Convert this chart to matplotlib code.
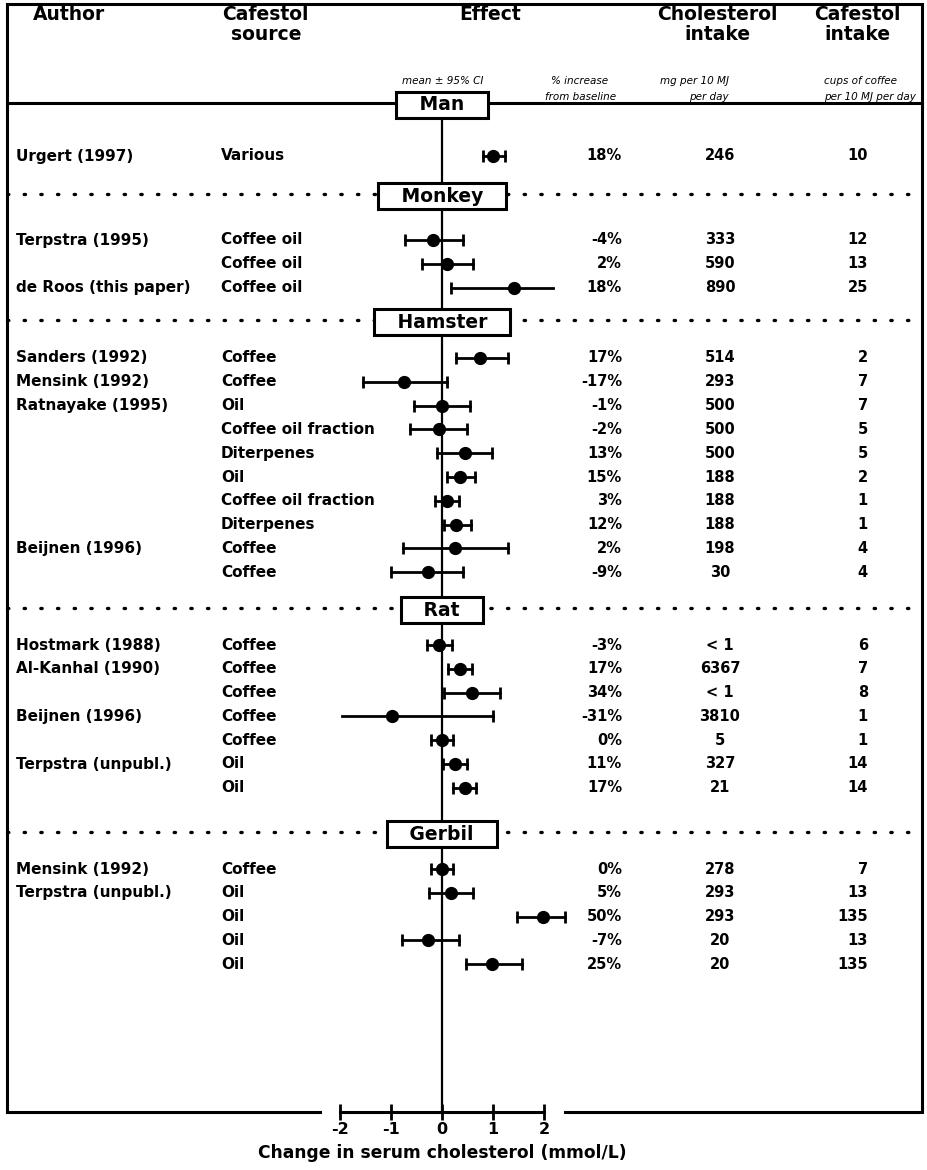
import numpy as np
import matplotlib.pyplot as plt

plt.rcParams['font.family'] = 'DejaVu Sans'
plt.rcParams['axes.unicode_minus'] = False

# species blocks and how many studies each holds
species = ['Man', 'Monkey', 'Hamster', 'Rat', 'Gerbil']
group_sizes = [1, 3, 10, 7, 5]

authors = ['Urgert (1997)',
           'Terpstra (1995)', '', 'de Roos (this paper)',
           'Sanders (1992)', 'Mensink (1992)', 'Ratnayake (1995)', '', '', '', '', '',
           'Beijnen (1996)', '',
           'Hostmark (1988)', 'Al-Kanhal (1990)', '', 'Beijnen (1996)', '',
           'Terpstra (unpubl.)', '',
           'Mensink (1992)', 'Terpstra (unpubl.)', '', '', '']
sources = ['Various',
           'Coffee oil', 'Coffee oil', 'Coffee oil',
           'Coffee', 'Coffee', 'Oil', 'Coffee oil fraction', 'Diterpenes', 'Oil',
           'Coffee oil fraction', 'Diterpenes', 'Coffee', 'Coffee',
           'Coffee', 'Coffee', 'Coffee', 'Coffee', 'Coffee', 'Oil', 'Oil',
           'Coffee', 'Oil', 'Oil', 'Oil', 'Oil']

# change in serum cholesterol, mmol/L
effect_mean = [1.00,
               -0.18, 0.10, 1.41,
               0.75, -0.75, 0.00, -0.06, 0.45, 0.35, 0.10, 0.27, 0.25, -0.27,
               -0.06, 0.35, 0.59, -0.98, 0.00, 0.25, 0.45,
               0.00, 0.18, 1.98, -0.27, 0.98]
ci_low = [0.80,
          -0.73, -0.39, 0.18,
          0.27, -1.55, -0.55, -0.63, -0.10, 0.10, -0.14, 0.04, -0.76, -1.00,
          -0.29, 0.12, 0.04, -1.96, -0.22, 0.02, 0.22,
          -0.22, -0.25, 1.47, -0.79, 0.47]
ci_high = [1.24,
           0.41, 0.61, 2.18,
           1.29, 0.10, 0.55, 0.49, 0.98, 0.65, 0.33, 0.57, 1.29, 0.41,
           0.20, 0.59, 1.14, 1.00, 0.22, 0.49, 0.67,
           0.22, 0.61, 2.41, 0.34, 1.57]
# CI ends that run off the scale (drawn without a cap)
open_end = ['', '', '', 'hi', '', '', '', '', '', '', '', '', '', '',
            '', '', '', 'lo', '', '', '', '', '', '', '', '']

pct_increase = ['18%',
                '-4%', '2%', '18%',
                '17%', '-17%', '-1%', '-2%', '13%', '15%', '3%', '12%', '2%', '-9%',
                '-3%', '17%', '34%', '-31%', '0%', '11%', '17%',
                '0%', '5%', '50%', '-7%', '25%']
chol_intake = ['246',
               '333', '590', '890',
               '514', '293', '500', '500', '500', '188', '188', '188', '198', '30',
               '< 1', '6367', '< 1', '3810', '5', '327', '21',
               '278', '293', '293', '20', '20']
cafestol_cups = ['10',
                 '12', '13', '25',
                 '2', '7', '7', '5', '5', '2', '1', '1', '4', '4',
                 '6', '7', '8', '1', '1', '14', '14',
                 '7', '13', '135', '13', '135']

# page layout (pixels); x data is mmol/L, zero sits at X0
W, H = 927, 1170
X0, SCALE = 442, 51
header_y = [103, 194, 320, 608, 832]
first_gap = [53, 46, 38, 37, 37]
pitch = 23.8
axis_y = 1112


def col(px):
    return (px - X0) / SCALE


row_y = []
for hy, gap, n in zip(header_y, first_gap, group_sizes):
    row_y.extend(hy + gap + pitch * np.arange(n))
row_y = np.array(row_y)

fig = plt.figure(figsize=(W / 100, H / 100), dpi=100)
ax = fig.add_axes([0, 0, 1, 1])
ax.set_xlim(col(0), col(W))
ax.set_ylim(H, 0)

lw_frame = 2.2
# frame, with the bottom edge broken around the scale
left, right, top = col(7), col(922), 4
ax.plot([left, left], [top, axis_y], color='black', lw=lw_frame, solid_capstyle='butt')
ax.plot([right, right], [top, axis_y], color='black', lw=lw_frame, solid_capstyle='butt')
ax.plot([left, right], [top, top], color='black', lw=lw_frame)
ax.plot([left, col(320)], [axis_y, axis_y], color='black', lw=lw_frame)
ax.plot([col(565), right], [axis_y, axis_y], color='black', lw=lw_frame)

# column headers
hdr = dict(fontsize=13.5, fontweight='bold', ha='center', va='center')
ax.text(col(69), 14, 'Author', **hdr)
ax.text(col(265), 14, 'Cafestol', **hdr)
ax.text(col(266), 34, 'source', **hdr)
ax.text(col(490), 14, 'Effect', **hdr)
ax.text(col(717), 14, 'Cholesterol', **hdr)
ax.text(col(717), 34, 'intake', **hdr)
ax.text(col(857), 14, 'Cafestol', **hdr)
ax.text(col(857), 34, 'intake', **hdr)
sub = dict(fontsize=7.5, style='italic', ha='center', va='center')
ax.text(col(443), 81, 'mean ± 95% CI', **sub)
ax.text(col(580), 81, '% increase', **sub)
ax.text(col(581), 97, 'from baseline', **sub)
ax.text(col(694), 81, 'mg per 10 MJ', **sub)
ax.text(col(709), 97, 'per day', **sub)
ax.text(col(860), 81, 'cups of coffee', **sub)
ax.text(col(870), 97, 'per 10 MJ per day', **sub)

# solid rule under the header, dotted rules between species
ax.plot([left, right], [header_y[0], header_y[0]], color='black', lw=lw_frame)
for hy in header_y[1:]:
    ax.plot([left, right], [hy, hy], color='black', lw=2.4,
            linestyle=(0, (0.4, 4.6)), dash_capstyle='round')

# zero line
ax.plot([0, 0], [header_y[0] + 10, axis_y], color='black', lw=1.6, zorder=2)

for name, hy in zip(species, header_y):
    ax.text(0, hy + 2, '   ' + name + '   ', fontsize=13.5, fontweight='bold',
            ha='center', va='center', zorder=5,
            bbox=dict(boxstyle='square,pad=0.2', fc='white', ec='black', lw=2.2))

# forest plot marks
for i, y in enumerate(row_y):
    ax.plot([ci_low[i], ci_high[i]], [y, y], color='black', lw=2, zorder=3)
    ax.plot(effect_mean[i], y, 'o', color='black', ms=8.5, zorder=4)
    if open_end[i] != 'lo':
        ax.plot(ci_low[i], y, marker='|', color='black', ms=9, mew=2, zorder=4)
    if open_end[i] != 'hi':
        ax.plot(ci_high[i], y, marker='|', color='black', ms=9, mew=2, zorder=4)

# table text
body = dict(fontsize=11, fontweight='bold', va='center')
nums = dict(fontsize=10.5, fontweight='bold', va='center')
for i, y in enumerate(row_y):
    ax.text(col(16), y, authors[i], ha='left', **body)
    ax.text(col(221), y, sources[i], ha='left', **body)
    ax.text(col(622), y, pct_increase[i], ha='right', **nums)
    ax.text(col(720), y, chol_intake[i], ha='center', **nums)
    ax.text(col(868), y, cafestol_cups[i], ha='right', **nums)

# effect scale
for s in ['top', 'right', 'left']:
    ax.spines[s].set_visible(False)
ax.spines['bottom'].set_position(('data', axis_y))
ax.spines['bottom'].set_bounds(-2, 2)
ax.spines['bottom'].set_linewidth(2.2)
ax.set_xticks([-2, -1, 0, 1, 2])
ax.set_yticks([])
ax.tick_params(axis='x', direction='inout', length=12, width=2, labelsize=11.5, pad=1)
for lbl in ax.get_xticklabels():
    lbl.set_fontweight('bold')
ax.text(0, 1153, 'Change in serum cholesterol (mmol/L)', fontsize=12.3,
        fontweight='bold', ha='center', va='center')

fig.savefig('out.png', dpi=100)
